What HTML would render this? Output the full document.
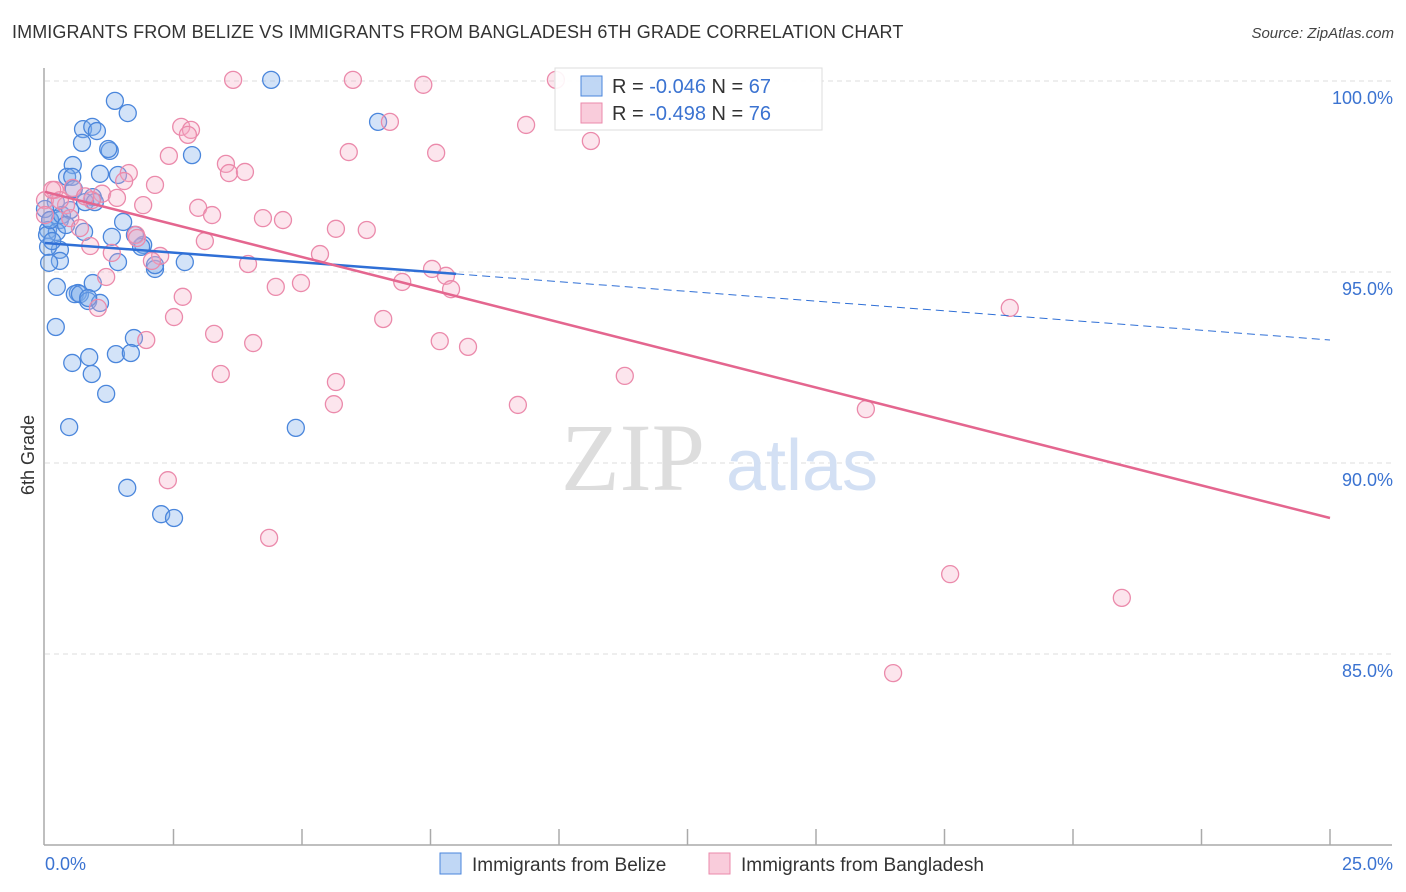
<!DOCTYPE html>
<html><head><meta charset="utf-8">
<style>
body{margin:0;background:#fff;font-family:"Liberation Sans",sans-serif;}
#wrap{position:relative;width:1406px;height:892px;overflow:hidden;}
.title{position:absolute;left:12px;top:22px;font-size:18px;color:#333;letter-spacing:0.1px;}
.src{position:absolute;right:12px;top:25px;font-size:15px;color:#444;font-style:italic;}
</style></head><body>
<div id="wrap">
<div class="title">IMMIGRANTS FROM BELIZE VS IMMIGRANTS FROM BANGLADESH 6TH GRADE CORRELATION CHART</div>
<div class="src">Source: ZipAtlas.com</div>
<svg id="svg" width="1406" height="892" style="position:absolute;left:0;top:0"></svg>
</div>
<script>
const xTicks=[0,2.5,5,7.5,10,12.5,15,17.5,20,22.5,25];
const yTicks=[100,95,90,85];
const yTickLabels=["100.0%","95.0%","90.0%","85.0%"];
const belizeX=[4.4,6.48,1.36,1.61,0.74,0.92,1.01,0.72,1.26,1.23,2.86,0.54,0.43,0.53,1.07,1.42,0.56,0.93,0.78,0.97,0.21,1.52,0.1,0.29,0.06,0.23,0.76,1.3,1.91,1.87,0.29,0.06,0.29,1.42,2.72,2.14,2.14,0.08,0.23,0.93,0.64,0.58,0.68,0.84,1.07,0.21,1.73,1.38,1.67,0.53,0.86,0.91,1.19,0.47,4.88,1.6,2.26,2.51,0.04,0,0.1,0.33,0.49,1.75,0.84,0.14,0.41];
const belizeY=[100.03,98.93,99.48,99.16,98.74,98.8,98.69,98.38,98.17,98.22,98.06,97.8,97.49,97.49,97.57,97.54,97.17,96.96,96.83,96.83,96.83,96.31,96.36,96.36,96.1,96.05,96.05,95.92,95.71,95.66,95.58,95.66,95.29,95.26,95.26,95.08,95.18,95.24,94.61,94.71,94.45,94.42,94.42,94.24,94.19,93.56,93.27,92.85,92.88,92.62,92.77,92.33,91.81,90.94,90.92,89.35,88.66,88.56,95.97,96.65,96.36,96.49,96.62,95.97,94.32,95.81,96.23];
const bangX=[3.66,5.99,7.36,9.94,6.71,9.36,10.62,2.65,2.84,2.78,5.91,7.61,2.41,3.52,3.58,3.89,1.63,1.54,2.14,0.54,0.19,1.11,0.91,0,1.4,0.41,1.91,2.98,3.25,4.24,4.63,5.66,6.26,0.49,0.68,1.77,1.79,3.11,0.88,1.3,2.24,2.08,3.95,5.35,7.53,7.8,6.95,4.49,4.98,7.9,2.68,1.19,1.03,2.51,6.58,1.97,3.29,4.05,7.68,8.23,3.42,5.66,5.62,9.2,11.28,18.77,15.97,2.39,4.36,17.61,20.95,16.5,0,0.29,0.14,0.78];
const bangY=[100.03,100.03,99.9,100.03,98.93,98.85,98.43,98.8,98.72,98.59,98.14,98.12,98.04,97.83,97.59,97.62,97.59,97.38,97.28,97.2,97.15,97.05,96.88,96.88,96.94,96.75,96.75,96.68,96.49,96.41,96.36,96.13,96.1,96.41,96.15,95.97,95.89,95.81,95.68,95.5,95.42,95.29,95.21,95.47,95.08,94.9,94.74,94.61,94.71,94.55,94.35,94.87,94.06,93.82,93.77,93.22,93.38,93.14,93.19,93.04,92.33,92.12,91.54,91.52,92.28,94.06,91.41,89.55,88.04,87.09,86.47,84.5,96.49,96.88,97.15,96.98];
const belizeTrend=[[0,95.76],[8,94.95],[25,93.22]];
const bangTrend=[[0,97.1],[25,88.56]];
const X=v=>45+v/25*1285;
const Y=v=>81+(100-v)*38.2;
const svg=document.getElementById('svg');
const NS='http://www.w3.org/2000/svg';
function mk(t,a){const e=document.createElementNS(NS,t);for(const k in a)e.setAttribute(k,a[k]);svg.appendChild(e);return e;}
// gridlines
yTicks.forEach((t,i)=>{
 const g=mk('line',{x1:45,x2:1392,y1:Y(t),y2:Y(t),stroke:'#ddd','stroke-dasharray':'5,4'});
 
 
 const l=mk('text',{x:1393,y:Y(t)+23,'text-anchor':'end','font-size':18,fill:'#3b73d1'});
 l.textContent=yTickLabels[i];
 
 
});
const ax=mk('line',{x1:44,x2:44,y1:68,y2:845,stroke:'#aaa','stroke-width':1.5});


const bx=mk('line',{x1:44,x2:1392,y1:845,y2:845,stroke:'#aaa','stroke-width':1.5});


xTicks.forEach(t=>{if(t===0)return;
 const k=mk('line',{x1:X(t),x2:X(t),y1:829,y2:845,stroke:'#aaa','stroke-width':1.5});
 
 
});
const xl0=mk('text',{x:45,y:870,'font-size':18,fill:'#3b73d1'});xl0.textContent='0.0%';


const xl1=mk('text',{x:1393,y:870,'font-size':18,fill:'#3b73d1','text-anchor':'end'});xl1.textContent='25.0%';


const yt=mk('text',{x:34,y:455,'font-size':18,fill:'#333','text-anchor':'middle',transform:'rotate(-90 34 455)'});yt.textContent='6th Grade';


// watermark
const w1=mk('text',{x:633,y:490,'font-size':96,fill:'#ddd','text-anchor':'middle','font-family':'Liberation Serif'});w1.textContent='ZIP';


const w2=mk('text',{x:802,y:490,'font-size':72,fill:'#d3e0f4','text-anchor':'middle'});w2.textContent='atlas';


// points
belizeX.forEach((v,i)=>{const c=mk('circle',{cx:X(v),cy:Y(belizeY[i]),r:8.5,fill:'rgba(130,176,235,0.35)',stroke:'#4a86dc','stroke-width':1.3});
 
 });
bangX.forEach((v,i)=>{const c=mk('circle',{cx:X(v),cy:Y(bangY[i]),r:8.5,fill:'rgba(245,170,195,0.3)',stroke:'#eb8aab','stroke-width':1.3});
 
 });
// trends
const t1=mk('line',{x1:X(belizeTrend[0][0]),y1:Y(belizeTrend[0][1]),x2:X(belizeTrend[1][0]),y2:Y(belizeTrend[1][1]),stroke:'#2f6fd6','stroke-width':2.5});


const t2=mk('line',{x1:X(belizeTrend[1][0]),y1:Y(belizeTrend[1][1]),x2:X(belizeTrend[2][0]),y2:Y(belizeTrend[2][1]),stroke:'#2f6fd6','stroke-width':1,'stroke-dasharray':'8,5'});


const t3=mk('line',{x1:X(bangTrend[0][0]),y1:Y(bangTrend[0][1]),x2:X(bangTrend[1][0]),y2:Y(bangTrend[1][1]),stroke:'#e4668f','stroke-width':2.5});


// legend box
const lb=mk('rect',{x:555,y:68,width:267,height:62,fill:'rgba(255,255,255,0.9)',stroke:'#ddd'});


[[76,'rgba(130,176,235,0.5)','#4a86dc','-0.046','67'],[103,'rgba(245,170,195,0.6)','#eb8aab','-0.498','76']].forEach((r,i)=>{
 const s=mk('rect',{x:581,y:r[0],width:21,height:20,fill:r[1],stroke:r[2]});
 
 
 const t=mk('text',{x:612,y:r[0]+17,'font-size':20,fill:'#333'});
 t.innerHTML='R = <tspan fill="#3b73d1">'+(i?' ':'')+r[3]+'</tspan>   N = <tspan fill="#3b73d1">'+r[4]+'</tspan>';
 t.setAttribute('xml:space','preserve');
 
 
});
// bottom legend
[[440,'rgba(130,176,235,0.5)','#4a86dc','Immigrants from Belize'],[709,'rgba(245,170,195,0.6)','#eb8aab','Immigrants from Bangladesh']].forEach(r=>{
 const s=mk('rect',{x:r[0],y:853,width:21,height:21,fill:r[1],stroke:r[2]});
 
 
 const t=mk('text',{x:r[0]+32,y:871,'font-size':19,fill:'#333'});t.textContent=r[3];
 
 
});
</script>
</body></html>
